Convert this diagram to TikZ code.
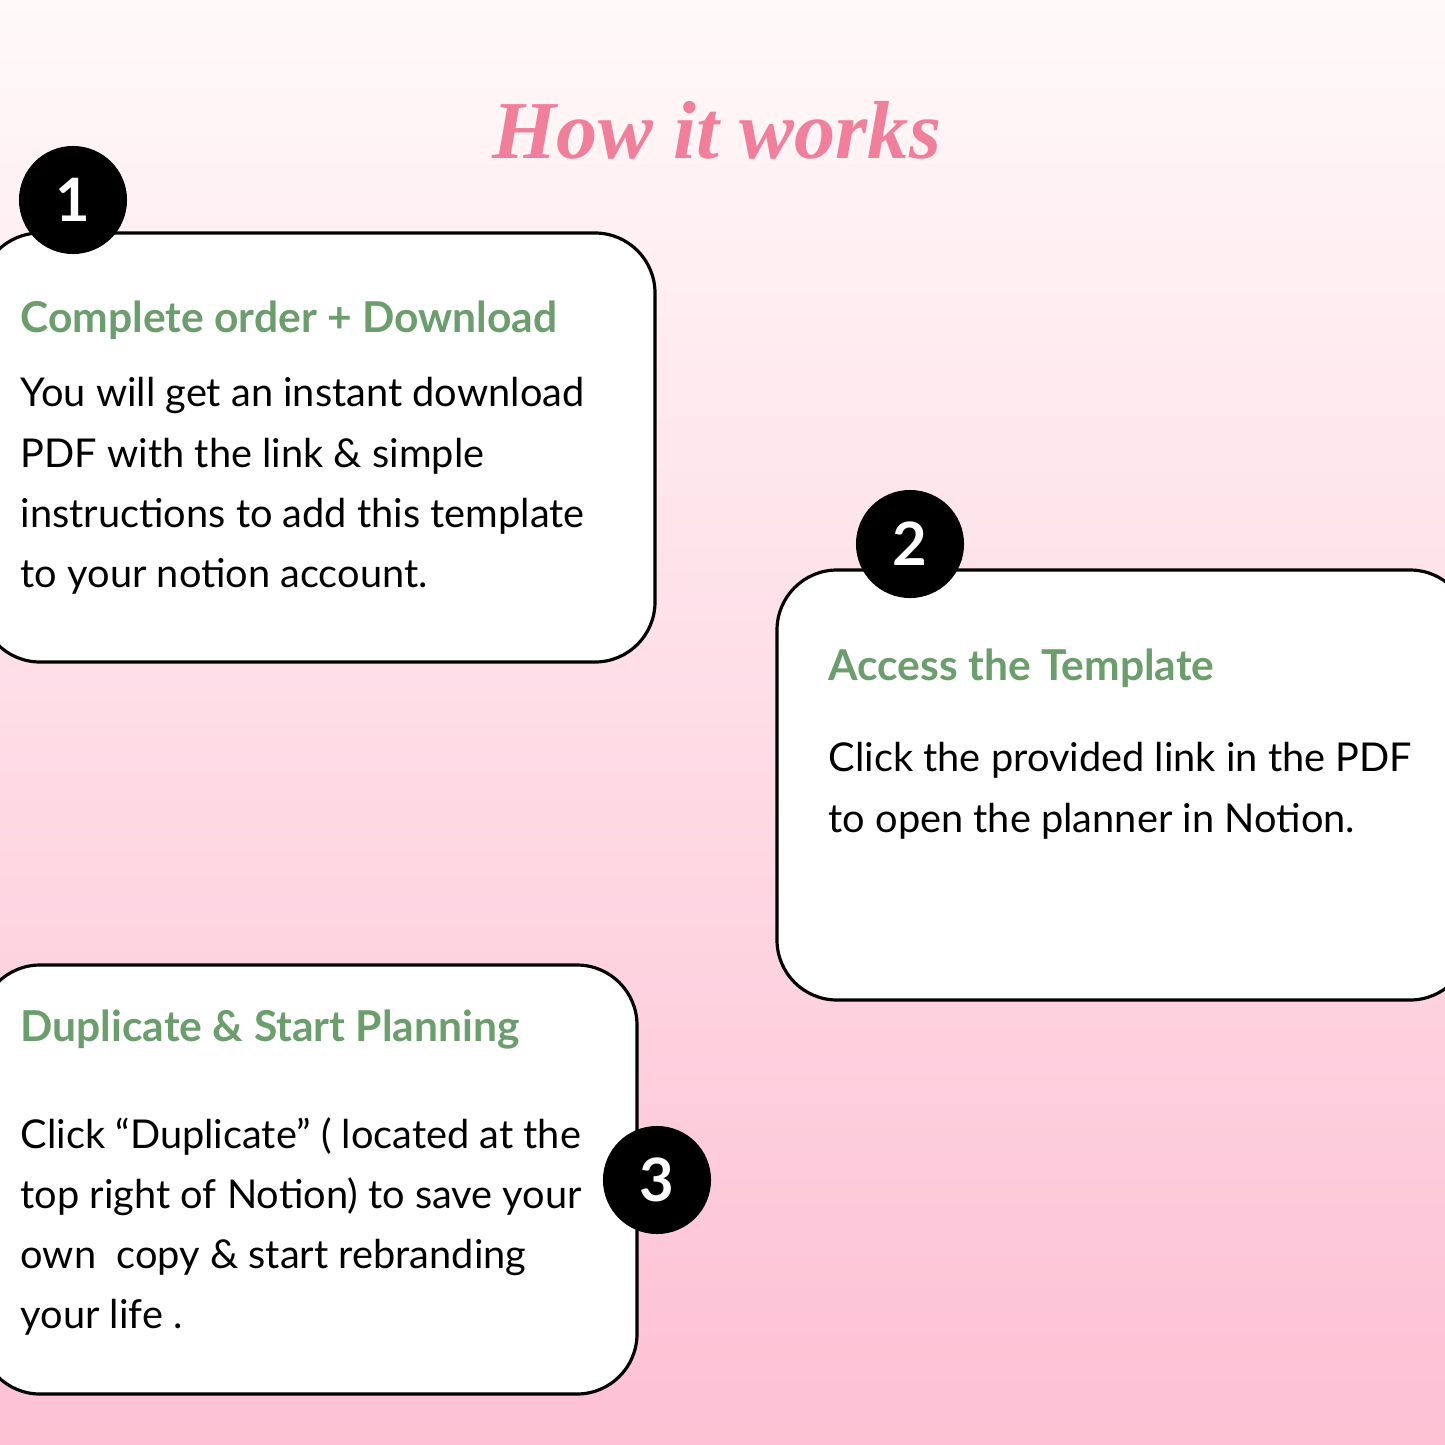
\documentclass[tikz,border=0pt]{standalone}
\usepackage{fontspec}
\setmainfont{Lato}
\newfontfamily\titlefont{Liberation Serif}
\begin{document}
\begin{tikzpicture}[x=0.01cm,y=-0.01cm,
  card/.style={draw=black,line width=0.9pt,fill=white,rounded corners=0.6cm},
  num/.style={circle,fill=black,minimum size=1.08cm,inner sep=0pt,text=white,font=\fontsize{17}{17}\selectfont\bfseries},
  head/.style={anchor=west,inner sep=0pt,font=\fontsize{12.1}{14}\selectfont\bfseries,text=headgreen},
  body/.style={anchor=north west,inner sep=0pt,align=left,font=\fontsize{11.3}{17.07}\selectfont}]
\definecolor{headgreen}{HTML}{6B9E6C}
\definecolor{titlepink}{HTML}{F07F9B}
\useasboundingbox (0,0) rectangle (1445,1445);
\shade[top color={rgb,255:red,255;green,249;blue,249},bottom color={rgb,255:red,253;green,192;blue,212}] (0,0) rectangle (1445,1445);
\node[text=titlepink,font=\titlefont\fontsize{23.4}{24}\selectfont\itshape\bfseries] (title) at (717,130) {How it works};
% card 1
\draw[card] (-20,233) rectangle (655,662);
\node[num] (n1) at (73,200) {1};
\node[head] (h1) at (20,320) {Complete order + Download};
\node[body] (b1) at (20,377) {You will get an instant download\\PDF with the link \& simple\\instructions to add this template\\to your notion account.};
% card 2
\draw[card] (777,570) rectangle (1470,1000);
\node[num] (n2) at (910,544) {2};
\node[head] (h2) at (828,668) {Access the Template};
\node[body] (b2) at (828,742) {Click the provided link in the PDF\\to open the planner in Notion.};
% card 3
\draw[card] (-20,965) rectangle (637,1394);
\node[head] (h3) at (20,1030) {Duplicate \& Start Planning};
\node[body] (b3) at (20,1117) {Click “Duplicate” ( located at the\\top right of Notion) to save your\\own\ \ copy \& start rebranding\\your life .};
\node[num] (n3) at (657,1180) {3};
\end{tikzpicture}
\end{document}
